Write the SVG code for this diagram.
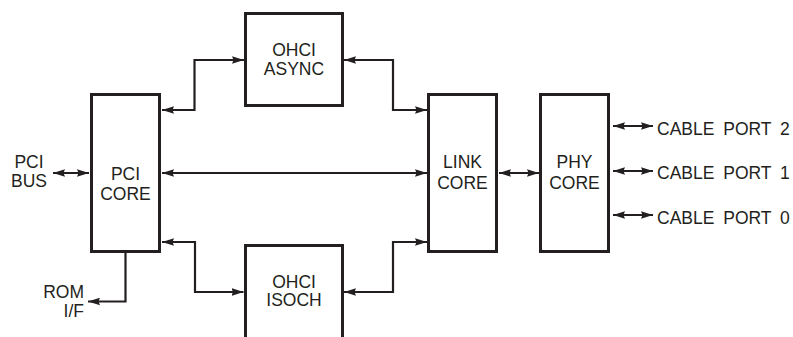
<svg xmlns="http://www.w3.org/2000/svg" width="793" height="337" viewBox="0 0 793 337">
<style>
.box{fill:#fff;stroke:#231f20;stroke-width:3}
.c{fill:none;stroke:#231f20;stroke-width:2.2;marker-start:url(#ah);marker-end:url(#ah)}
.c1{fill:none;stroke:#231f20;stroke-width:2.2;marker-end:url(#ah)}
text{font-family:"Liberation Sans",Arial,sans-serif;font-size:17.5px;fill:#231f20}
.m{text-anchor:middle}
.e{text-anchor:end}
.p{word-spacing:4px}
</style>
<defs>
<marker id="ah" markerUnits="userSpaceOnUse" markerWidth="12" markerHeight="8" refX="12" refY="4" orient="auto-start-reverse" viewBox="0 0 12 8">
<path d="M0,0.2 L12,4 L0,7.8 L1.5,4 z" fill="#231f20"/>
</marker>
</defs>
<rect width="793" height="337" fill="#fff"/>
<g id="connectors">
<path class="c" d="M53,173 H89"/>
<path class="c1" d="M125.5,253 V301.5 H88"/>
<path class="c" d="M162,110 H194.5 V60 H244"/>
<path class="c" d="M344,60 H393 V110 H427"/>
<path class="c" d="M162,173 H427"/>
<path class="c" d="M162,242 H195 V292 H243.5"/>
<path class="c" d="M344,292 H393 V242 H427"/>
<path class="c" d="M499,173 H539"/>
<path class="c" d="M613,126 H653"/>
<path class="c" d="M613,171 H653"/>
<path class="c" d="M613,215 H653"/>
</g>
<g id="pci-core">
<rect class="box" x="91.5" y="94.5" width="68" height="157"/>
<text class="m" x="125.5" y="180">PCI</text>
<text class="m" x="125.5" y="200">CORE</text>
</g>
<g id="ohci-async">
<rect class="box" x="245.5" y="13.5" width="97" height="92"/>
<text class="m" x="294" y="55.7">OHCI</text>
<text class="m" x="294" y="74.5">ASYNC</text>
</g>
<g id="ohci-isoch">
<rect class="box" x="245.5" y="245.5" width="97" height="100"/>
<text class="m" x="294" y="287.5">OHCI</text>
<text class="m" x="294" y="306">ISOCH</text>
</g>
<g id="link-core">
<rect class="box" x="428.5" y="94.5" width="68" height="157"/>
<text class="m" x="462.5" y="168">LINK</text>
<text class="m" x="462.5" y="188.5">CORE</text>
</g>
<g id="phy-core">
<rect class="box" x="540.5" y="94.5" width="68" height="157"/>
<text class="m" x="574.5" y="168">PHY</text>
<text class="m" x="574.5" y="188.5">CORE</text>
</g>
<g id="pci-bus">
<text class="m" x="29" y="167.5">PCI</text>
<text class="m" x="29" y="186.5">BUS</text>
</g>
<g id="rom-if">
<text class="e" x="84" y="297.7">ROM</text>
<text class="e" x="84" y="316.7">I/F</text>
</g>
<g id="cable-ports">
<text class="p" x="657" y="134.5">CABLE PORT 2</text>
<text class="p" x="657" y="179">CABLE PORT 1</text>
<text class="p" x="657" y="223.5">CABLE PORT 0</text>
</g>
</svg>
